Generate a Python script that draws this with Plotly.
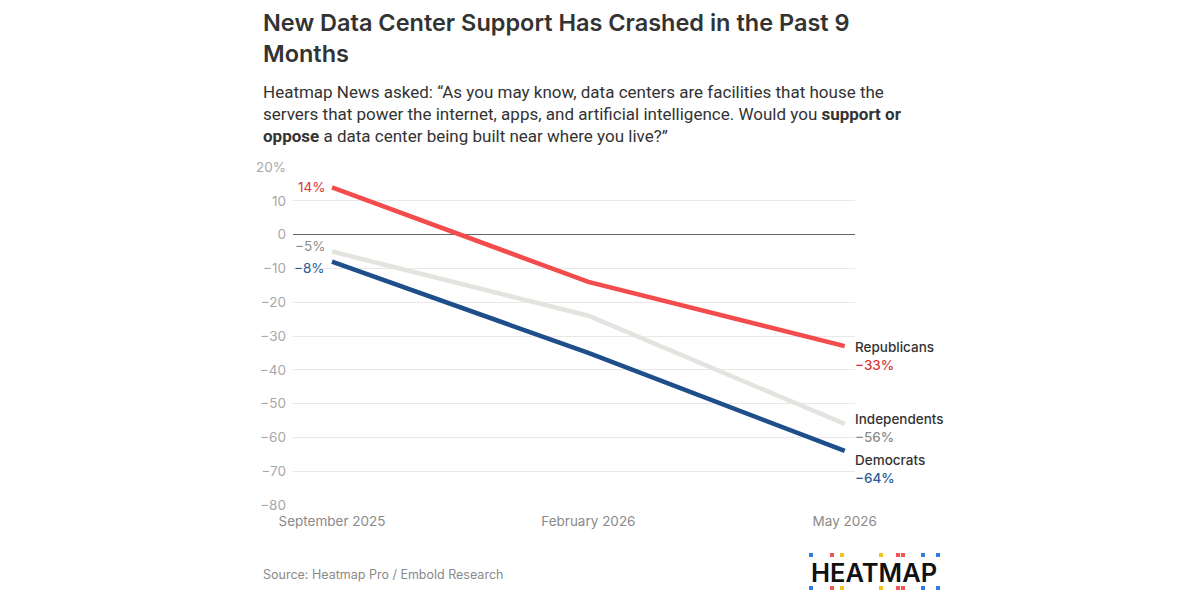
import plotly.graph_objects as go

# survey waves and net support (support minus oppose), in percent
waves = ["September 2025", "February 2026", "May 2026"]
republicans = [14, -14, -33]
independents = [-5, -24, -56]
democrats = [-8, -35, -64]

y_ticks = [20, 10, 0, -10, -20, -30, -40, -50, -60, -70, -80]
y_ticklabels = ["20%", "10", "0", "−10", "−20", "−30", "−40", "−50", "−60", "−70", "−80"]

W, H = 1200, 600
OFF = 8  # page body margin
L, R, T, B = 293 - OFF, 345 + OFF, 167 - OFF, 95 + OFF
PW, PH = W - L - R, H - T - B


def px(x):
    return (x - OFF - L) / PW


def py(y):
    return (H - B - (y - OFF)) / PH


FONT = "Inter"
DARK = "#333333"

series = [
    ("Republicans", republicans, "#f24c4c", "#d8383d", -10, 0),
    ("Independents", independents, "#e3e3df", "#8c8c8c", -4, 6),
    ("Democrats", democrats, "#1f4f8b", "#2b5b95", -18, -6),
]

fig = go.Figure()
for name, vals, col, _, _, _ in series:
    fig.add_trace(go.Scatter(
        x=waves, y=vals, mode="lines", name=name,
        line=dict(color=col, width=4.5), hoverinfo="skip",
    ))


def fmt(v):
    return ("−" if v < 0 else "") + f"{abs(v)}%"


ann = []
for name, vals, col, tcol, end_shift, start_shift in series:
    ann.append(dict(
        x=waves[-1], y=vals[-1], xref="x", yref="y", xanchor="left", yanchor="middle",
        xshift=8, yshift=end_shift, showarrow=False, align="left",
        text=f"<span style='color:{DARK}'>{name}</span><br><span style='color:{tcol}'>{fmt(vals[-1])}</span>",
        font=dict(family=FONT, size=13.5, color=DARK, weight=500),
    ))
    ann.append(dict(
        x=waves[0], y=vals[0], xref="x", yref="y", xanchor="right", yanchor="middle",
        xshift=-5, yshift=start_shift, showarrow=False,
        text=fmt(vals[0]), font=dict(family=FONT, size=13.5, color=tcol),
    ))

# titles and footer
ann += [
    dict(x=px(261), y=py(6), xref="paper", yref="paper", xanchor="left", yanchor="top",
         showarrow=False, align="left",
         text="New Data Center Support Has Crashed in the Past 9<br>Months",
         font=dict(family=FONT, size=23.5, color=DARK, weight=600)),
    dict(x=px(261), y=py(80), xref="paper", yref="paper", xanchor="left", yanchor="top",
         showarrow=False, align="left",
         text=("Heatmap News asked: “As you may know, data centers are facilities that house the<br>"
               "servers that power the internet, apps, and artificial intelligence. Would you <b>support or</b><br>"
               "<b>oppose</b> a data center being built near where you live?”"),
         font=dict(family="Roboto", size=17, color=DARK)),
    dict(x=px(261), y=py(574), xref="paper", yref="paper", xanchor="left", yanchor="middle",
         showarrow=False, text="Source: Heatmap Pro / Embold Research",
         font=dict(family=FONT, size=12.5, color="#8a8a8a")),
    dict(x=px(874), y=py(572), xref="paper", yref="paper", xanchor="center", yanchor="middle",
         showarrow=False, text="HEATMAP",
         font=dict(family=FONT, size=25.5, color="#111111", weight=600)),
]

# logo dots
dot_x = [811, 832, 842, 881, 898, 903, 923, 938]
dot_c = ["#2f7fe0", "#ef5555", "#f2c51c", "#f2c51c", "#ef5555", "#ef5555", "#2f7fe0", "#2f7fe0"]
shapes = []
for dy in (555, 588):
    for dx, dc in zip(dot_x, dot_c):
        shapes.append(dict(type="rect", xref="paper", yref="paper",
                           x0=px(dx - 2), x1=px(dx + 2), y0=py(dy + 2), y1=py(dy - 2),
                           fillcolor=dc, line=dict(width=0)))

fig.update_layout(
    width=W, height=H,
    margin=dict(l=L, r=R, t=T, b=B),
    paper_bgcolor="white", plot_bgcolor="white",
    showlegend=False,
    annotations=ann, shapes=shapes,
    font=dict(family=FONT),
    xaxis=dict(
        type="category", range=[-0.152, 2.04], showgrid=False, zeroline=False,
        showline=False, ticks="", tickfont=dict(family=FONT, size=13.5, color="#8a8a8a"),
        ticklabelstandoff=6,
    ),
    yaxis=dict(
        range=[-80, 20], tickvals=y_ticks, ticktext=y_ticklabels,
        showgrid=True, gridcolor="#e8e8e8", gridwidth=1,
        zeroline=True, zerolinecolor="#666666", zerolinewidth=1.3,
        showline=False, ticks="", tickfont=dict(family=FONT, size=13.5, color="#a8a8a8"),
        ticklabelstandoff=6,
    ),
)

fig.write_html("out.html")
